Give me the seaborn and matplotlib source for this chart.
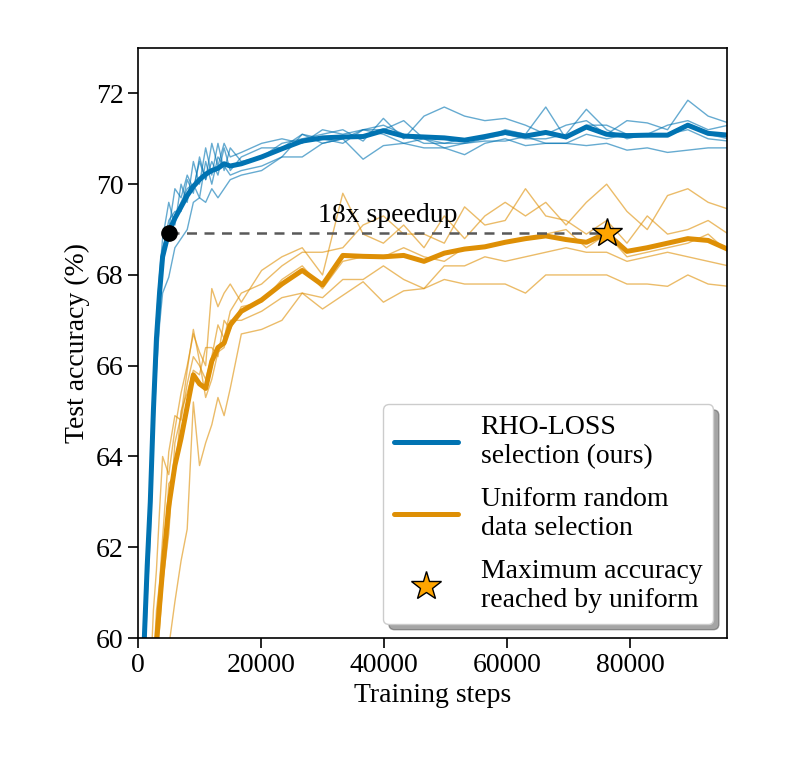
import pandas as pd
import seaborn as sns
import matplotlib.pyplot as plt
from matplotlib.lines import Line2D

# --- Data ---

steps = [1000, 1500, 2000, 2500, 3000, 3500, 4000, 5000, 6000, 7000, 8000,
         9000, 10000, 11000, 12000, 13000, 14000, 15000, 16800, 20100, 23400,
         26700, 30000, 33300, 36600, 39900, 43200, 46500, 49800, 53100, 56400,
         59700, 63000, 66300, 69600, 72900, 76200, 79500, 82800, 86100, 89400,
         92700, 96000, 99300]

rho_mean = [59.9, 61.6, 63.0, 65.0, 66.6, 67.6, 68.4, 68.95, 69.25, 69.5, 69.75,
            69.95, 70.1, 70.22, 70.3, 70.35, 70.45, 70.4, 70.45, 70.6, 70.78,
            70.95, 71.02, 71.04, 71.05, 71.18, 71.06, 71.04, 71.02, 70.97, 71.05,
            71.14, 71.06, 71.14, 71.04, 71.26, 71.1, 71.07, 71.08, 71.08, 71.3,
            71.12, 71.08, 71.05]

rho_runs = [
  [59.9, 62.0, 63.4, 65.4, 67.0, 68.0, 68.8, 69.6, 69.1, 70.0, 69.6, 70.5, 70.0,
   70.8, 70.2, 70.9, 70.3, 70.8, 70.5, 70.6, 70.9, 71.0, 71.1, 71.2, 70.95, 71.45,
   71.0, 71.5, 71.7, 71.5, 71.4, 71.45, 71.3, 71.1, 71.3, 71.4, 71.1, 71.4, 71.35,
   71.2, 71.85, 71.5, 71.35, 71.3],
  [59.7, 61.8, 63.2, 65.2, 66.8, 67.8, 68.6, 69.0, 69.9, 69.7, 70.2, 69.9, 70.5,
   70.1, 70.9, 70.4, 70.9, 70.6, 70.7, 70.9, 71.0, 70.9, 71.2, 71.1, 71.2, 71.2,
   71.4, 71.0, 70.9, 70.9, 71.0, 71.2, 71.1, 71.7, 71.0, 71.3, 71.3, 71.1, 71.1,
   71.3, 71.4, 71.2, 71.3, 71.2],
  [59.8, 61.7, 63.1, 65.1, 66.7, 67.8, 68.5, 69.2, 69.4, 69.4, 70.1, 69.8, 70.6,
   70.1, 70.5, 70.2, 70.8, 70.3, 70.6, 70.8, 70.8, 71.1, 70.9, 71.0, 71.2, 71.3,
   71.1, 70.9, 70.9, 71.0, 71.0, 71.1, 71.0, 71.0, 71.1, 71.65, 71.2, 71.0, 71.1,
   71.1, 71.3, 71.1, 71.0, 71.0],
  [59.5, 61.5, 62.9, 64.8, 66.5, 67.6, 68.3, 69.0, 69.3, 69.6, 69.9, 70.0, 69.7,
   70.5, 70.0, 70.6, 70.4, 70.2, 70.3, 70.4, 70.6, 71.1, 71.0, 70.9, 71.2, 71.1,
   70.9, 71.0, 70.8, 70.65, 70.9, 71.0, 70.85, 70.9, 70.9, 71.1, 71.0, 71.1, 71.05,
   71.1, 71.2, 71.0, 70.95, 70.95],
  [59.0, 60.9, 62.3, 64.4, 65.9, 66.9, 67.6, 67.95, 68.6, 68.8, 69.0, 69.6, 69.7,
   69.6, 69.9, 69.7, 69.9, 70.1, 70.2, 70.3, 70.6, 70.6, 70.9, 71.0, 70.55, 70.85,
   70.9, 70.8, 70.8, 70.9, 70.95, 70.95, 71.05, 70.9, 70.9, 70.85, 70.9, 70.75,
   70.8, 70.7, 70.75, 70.8, 70.8, 70.8],
]

uniform_mean = [55.0, 56.5, 57.8, 58.9, 59.9, 60.7, 61.5, 62.9, 63.8, 64.4, 65.1,
                65.8, 65.6, 65.5, 66.1, 66.4, 66.5, 66.9, 67.2, 67.45, 67.8,
                68.1, 67.78, 68.43, 68.41, 68.4, 68.43, 68.3, 68.48, 68.57, 68.62,
                68.72, 68.8, 68.86, 68.78, 68.72, 68.92, 68.52, 68.6, 68.7, 68.8,
                68.76, 68.56, 68.5]

uniform_runs = [
  [56.0, 57.6, 59.0, 60.6, 61.5, 62.8, 64.0, 63.6, 64.6, 65.4, 66.0, 66.7, 66.3,
   66.0, 67.7, 67.3, 67.6, 67.8, 67.4, 68.1, 68.4, 68.6, 68.0, 69.8, 68.9, 68.7,
   69.1, 68.6, 69.3, 68.8, 69.3, 69.6, 69.3, 69.6, 69.1, 69.6, 70.0, 69.4, 69.0,
   69.75, 69.9, 69.6, 69.45, 69.4],
  [55.3, 56.9, 58.2, 59.3, 60.6, 61.2, 62.2, 64.1, 64.9, 64.8, 65.6, 66.2, 66.0,
   65.7, 66.2, 66.9, 66.6, 67.2, 67.6, 67.8, 68.2, 68.5, 68.5, 68.6, 69.1, 69.3,
   68.9, 68.9, 68.7, 69.5, 69.1, 69.2, 69.9, 69.3, 69.2, 68.9, 69.2, 68.7, 69.3,
   68.9, 69.0, 69.2, 68.9, 68.8],
  [55.0, 56.5, 57.8, 59.0, 59.7, 60.9, 61.3, 63.4, 63.6, 65.0, 65.4, 65.9, 65.8,
   66.4, 66.4, 66.2, 67.0, 66.8, 67.3, 67.4, 67.9, 68.2, 67.7, 68.3, 68.4, 68.4,
   68.6, 68.4, 68.3, 68.6, 68.6, 68.7, 68.8, 68.9, 69.0, 68.6, 68.9, 68.4, 68.5,
   68.6, 68.7, 68.9, 68.5, 68.4],
  [54.6, 56.0, 57.3, 58.4, 59.5, 60.2, 61.2, 62.3, 64.3, 64.9, 65.9, 66.8, 66.1,
   65.3, 65.7, 66.3, 66.4, 67.0, 67.0, 67.2, 67.5, 67.6, 67.5, 67.9, 67.9, 68.2,
   67.9, 67.7, 68.2, 68.2, 68.4, 68.3, 68.4, 68.5, 68.6, 68.5, 68.5, 68.3, 68.4,
   68.5, 68.4, 68.3, 68.2, 68.2],
  [54.0, 55.3, 56.6, 57.4, 58.2, 58.8, 59.3, 59.8, 60.8, 61.7, 62.4, 65.2, 63.8,
   64.3, 64.7, 65.3, 64.9, 65.5, 66.7, 66.8, 67.0, 67.6, 67.25, 67.55, 67.85, 67.4,
   67.65, 67.7, 67.9, 67.8, 67.8, 67.8, 67.6, 68.0, 68.0, 68.0, 68.0, 67.8, 67.8,
   67.75, 68.0, 67.8, 67.75, 67.7],
]

BLUE = '#0173b2'
ORANGE = '#de8f05'
palette = {'rho': BLUE, 'uniform': ORANGE}

# --- Tables ---

runs = pd.concat(
    [pd.DataFrame({'step': steps, 'acc': run, 'seed': i, 'method': 'rho'})
     for i, run in enumerate(rho_runs)] +
    [pd.DataFrame({'step': steps, 'acc': run, 'seed': i, 'method': 'uniform'})
     for i, run in enumerate(uniform_runs)],
    ignore_index=True)

means = pd.concat([
    pd.DataFrame({'step': steps, 'acc': rho_mean, 'method': 'rho'}),
    pd.DataFrame({'step': steps, 'acc': uniform_mean, 'method': 'uniform'}),
], ignore_index=True)

uni = means[means.method == 'uniform']
best = uni.loc[uni.acc.idxmax()]
star_x, star_y = best.step, best.acc
rho = means[means.method == 'rho']
dot_x = rho.step[rho.acc >= star_y].iloc[0]

# --- Plot ---

sns.set_style('ticks')
plt.rcParams['font.family'] = ['Liberation Serif', 'DejaVu Serif']
plt.rcParams['font.size'] = 20
for key in ['text.color', 'axes.labelcolor', 'xtick.color', 'ytick.color']:
  plt.rcParams[key] = 'black'

fig = plt.figure(figsize=(8, 7.6), dpi=100)
ax = fig.add_axes([0.1725, 0.1605, 0.7365, 0.7763])

sns.lineplot(data=runs, x='step', y='acc', hue='method', units='seed',
             estimator=None, palette=palette, lw=1.0, alpha=0.6,
             legend=False, ax=ax)
sns.lineplot(data=means, x='step', y='acc', hue='method', palette=palette,
             lw=3.6, legend=False, ax=ax)

ax.plot([dot_x, star_x], [star_y, star_y], ls='--', color='0.35', lw=1.8,
        dashes=(4, 3), zorder=4)
ax.plot(dot_x, star_y, 'o', color='black', ms=11, zorder=5)
ax.plot(star_x, star_y, marker='*', ms=22, mfc='orange', mec='black',
        mew=1.0, ls='none', zorder=6)
ax.text((dot_x + star_x) / 2, star_y + 0.12, '18x speedup', ha='center',
        va='bottom', fontsize=20)

ax.set_xlim(0, 95800)
ax.set_ylim(60, 73)
ax.set_xticks([0, 20000, 40000, 60000, 80000])
ax.set_yticks([60, 62, 64, 66, 68, 70, 72])
ax.set_xlabel('Training steps', fontsize=20)
ax.set_ylabel('Test accuracy (%)', fontsize=20)
ax.tick_params(direction='out', length=7, width=1.2, labelsize=20)
for s in ax.spines.values():
  s.set_visible(True)
  s.set_color('black')
  s.set_linewidth(1.2)

handles = [
    Line2D([], [], color=BLUE, lw=3.6),
    Line2D([], [], color=ORANGE, lw=3.6),
    Line2D([], [], marker='*', ls='none', ms=22, mfc='orange', mec='black',
           mew=1.0),
]
labels = ['RHO-LOSS\nselection (ours)', 'Uniform random\ndata selection',
          'Maximum accuracy\nreached by uniform']
ax.legend(handles, labels, loc='lower right', fontsize=20,
          shadow={'ox': 4, 'oy': -4}, fancybox=True, framealpha=1,
          edgecolor='0.8', handlelength=2.3, labelspacing=0.65)

fig.savefig('out.png', dpi=100)
